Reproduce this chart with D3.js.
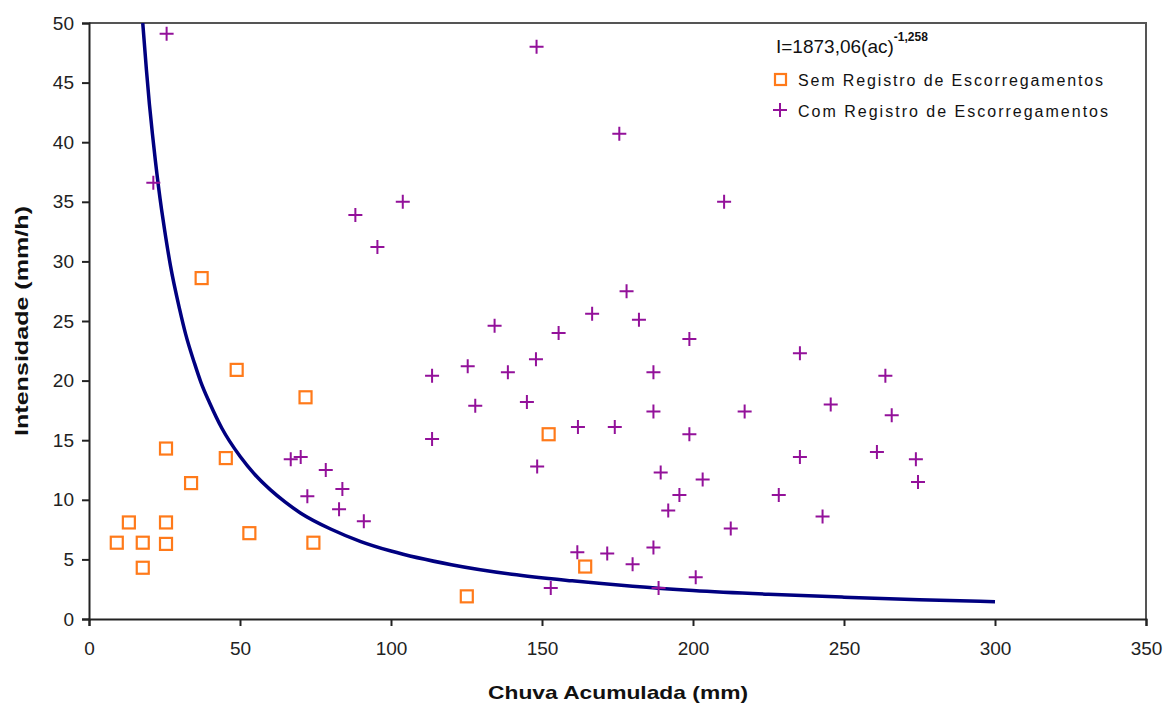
<!DOCTYPE html>
<html>
<head>
<meta charset="utf-8">
<script src="https://cdn.jsdelivr.net/npm/d3@7"></script>
<style>
  body { margin: 0; background: #fff; }
  svg text { font-family: "Liberation Sans", Arial, sans-serif; }
</style>
</head>
<body>
<div id="chart"></div>
<script>
// Sem Registro de Escorregamentos (chuva acumulada mm, intensidade mm/h)
const semAc = [37.3, 48.9, 71.7, 25.5, 45.3, 33.8, 13.2, 25.5, 9.2, 17.8, 25.5, 53.1, 74.3, 17.8, 152.2, 164.3, 125.1];
const semI  = [28.6, 20.9, 18.6, 14.3, 13.5, 11.4, 8.1, 8.1, 6.4, 6.4, 6.3, 7.2, 6.4, 4.3, 15.5, 4.4, 1.9];

// Com Registro de Escorregamentos
const comAc = [25.7, 21.3, 66.8, 70.1, 78.4, 83.9, 72.3, 82.8, 91.0, 88.2, 103.9, 95.5,
  178.0, 166.6, 182.1, 134.3, 155.5, 148.0, 125.4, 138.7, 113.6, 186.9, 127.9, 145.0,
  186.9, 161.9, 174.1, 113.6, 148.4, 189.3, 191.8, 161.7, 171.6, 180.0, 186.9, 152.9,
  188.6, 148.2, 175.6, 210.3, 198.8, 235.4, 263.7, 245.6, 217.1, 265.8, 198.8, 260.9,
  235.4, 273.8, 203.2, 274.5, 195.5, 228.4, 242.9, 212.5, 200.9];
const comI  = [49.1, 36.6, 13.4, 13.6, 12.5, 10.9, 10.3, 9.2, 8.2, 33.9, 35.0, 31.2,
  27.5, 25.6, 25.1, 24.6, 24.0, 21.8, 21.2, 20.7, 20.4, 20.7, 17.9, 18.2,
  17.4, 16.1, 16.1, 15.1, 12.8, 12.3, 9.1, 5.6, 5.5, 4.6, 6.0, 2.6,
  2.6, 48.0, 40.7, 35.0, 23.5, 22.3, 20.4, 18.0, 17.4, 17.1, 15.5, 14.0,
  13.6, 13.4, 11.7, 11.5, 10.4, 10.4, 8.6, 7.6, 3.5];

// limiar curve I=1873,06(ac)^-1,258
const curveAc = [17.8, 19, 20, 21, 22, 24, 25, 27, 30, 32, 35, 37, 40, 44, 50, 55, 60, 65, 70, 80, 90, 100,
  120, 140, 160, 180, 200, 225, 250, 275, 300];
const curveI  = [50, 46.1, 43.2, 40.7, 38.4, 34.4, 32.7, 29.6, 26.0, 23.9, 21.4, 19.9, 18.1, 16.0, 13.65, 12.1,
  10.85, 9.8, 8.9, 7.55, 6.5, 5.7, 4.55, 3.75, 3.2, 2.75, 2.4, 2.08, 1.83, 1.62, 1.45];

const xTicks = [0, 50, 100, 150, 200, 250, 300, 350];
const yTicks = [0, 5, 10, 15, 20, 25, 30, 35, 40, 45, 50];

const width = 1170, height = 704;
const margin = {top: 23, right: 24, bottom: 85, left: 89};

const svg = d3.select("#chart")
    .append("svg")
    .attr("width", width)
    .attr("height", height);

const x = d3.scaleLinear().domain([0, 350]).range([margin.left, width - margin.right]);
const y = d3.scaleLinear().domain([0, 50]).range([height - margin.bottom, margin.top]);

svg.append("clipPath").attr("id", "plot")
  .append("rect")
    .attr("x", x(0)).attr("y", y(50))
    .attr("width", x(350) - x(0)).attr("height", y(0) - y(50));

// frame top / right
svg.append("path")
    .attr("d", `M${x(0)},${y(50)}H${x(350)}V${y(0)}`)
    .attr("fill", "none")
    .attr("stroke", "#555")
    .attr("stroke-width", 2);

// axes
const xAxis = svg.append("g")
    .attr("transform", `translate(0,${y(0)})`)
    .call(d3.axisBottom(x).tickValues(xTicks).tickSize(7).tickPadding(16));
const yAxis = svg.append("g")
    .attr("transform", `translate(${x(0)},0)`)
    .call(d3.axisLeft(y).tickValues(yTicks).tickSize(7).tickPadding(8));

[xAxis, yAxis].forEach(g => {
    g.select(".domain").attr("stroke", "#222").attr("stroke-width", 2);
    g.selectAll(".tick line").attr("stroke", "#222").attr("stroke-width", 2);
    g.selectAll(".tick text")
        .attr("fill", "#222")
        .style("font-size", "19px")
        .style("font-family", "'Liberation Sans Narrow', 'Liberation Sans', Arial, sans-serif");
});

// curve
const line = d3.line()
    .x((d, i) => x(curveAc[i]))
    .y(d => y(d))
    .curve(d3.curveMonotoneX);
svg.append("path")
    .attr("clip-path", "url(#plot)")
    .attr("d", line(curveI))
    .attr("fill", "none")
    .attr("stroke", "#000080")
    .attr("stroke-width", 3.5);

// Sem Registro squares
svg.append("g")
  .selectAll("rect")
  .data(semAc)
  .join("rect")
    .attr("x", (d, i) => x(d) - 6)
    .attr("y", (d, i) => y(semI[i]) - 6)
    .attr("width", 12)
    .attr("height", 12)
    .attr("fill", "#fff")
    .attr("stroke", "#ff7a1a")
    .attr("stroke-width", 2.2);

// Com Registro pluses
const plus = "M-7,0H7M0,-7V7";
svg.append("g")
  .selectAll("path")
  .data(comAc)
  .join("path")
    .attr("transform", (d, i) => `translate(${x(d)},${y(comI[i])})`)
    .attr("d", plus)
    .attr("stroke", "#93119a")
    .attr("stroke-width", 2);

// legend
const formula = svg.append("text")
    .attr("x", 776)
    .attr("y", 53)
    .attr("fill", "#111")
    .style("font-size", "19px");
formula.append("tspan").text("I=1873,06(ac)");
formula.append("tspan")
    .attr("dy", -12)
    .style("font-size", "12px")
    .style("font-weight", "bold")
    .text("-1,258");

const legendItems = ["Sem Registro de Escorregamentos", "Com Registro de Escorregamentos"];
const lg = svg.append("g");
lg.append("rect")
    .attr("x", 775).attr("y", 74).attr("width", 11).attr("height", 11)
    .attr("fill", "#fff").attr("stroke", "#ff7a1a").attr("stroke-width", 2.2);
lg.append("path")
    .attr("transform", "translate(780,110)")
    .attr("d", plus)
    .attr("stroke", "#93119a").attr("stroke-width", 2);
lg.selectAll("text")
  .data(legendItems)
  .join("text")
    .attr("x", 798)
    .attr("y", (d, i) => 86 + i * 31)
    .attr("fill", "#111")
    .attr("textLength", (d, i) => i === 0 ? 305 : 310)
    .attr("lengthAdjust", "spacing")
    .style("font-size", "16px")
    .text(d => d);

// axis titles
svg.append("text")
    .attr("x", 618)
    .attr("y", 699)
    .attr("text-anchor", "middle")
    .attr("fill", "#111")
    .style("font-size", "19px")
    .style("font-weight", "bold")
    .attr("textLength", 260)
    .attr("lengthAdjust", "spacingAndGlyphs")
    .text("Chuva Acumulada (mm)");

svg.append("text")
    .attr("transform", `translate(28,${y(25)}) rotate(-90)`)
    .attr("text-anchor", "middle")
    .attr("fill", "#111")
    .style("font-size", "19px")
    .style("font-weight", "bold")
    .attr("textLength", 230)
    .attr("lengthAdjust", "spacingAndGlyphs")
    .text("Intensidade (mm/h)");
</script>
</body>
</html>
